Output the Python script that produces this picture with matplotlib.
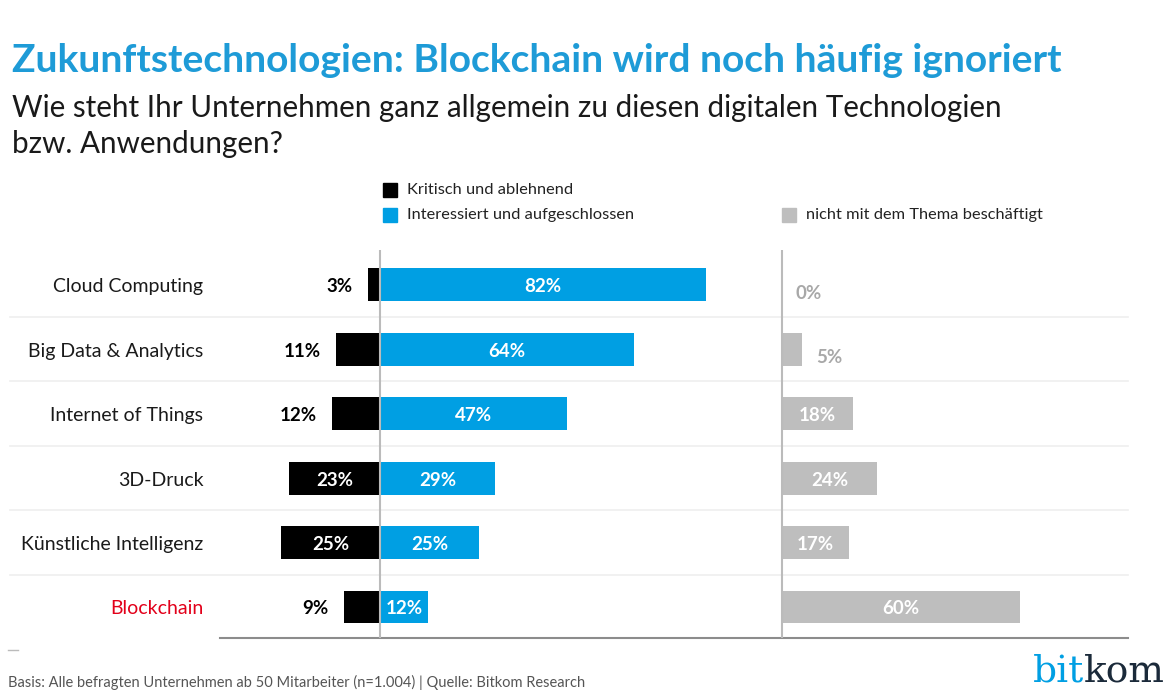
import matplotlib.pyplot as plt
from matplotlib.lines import Line2D
from matplotlib.patches import Rectangle

# Daten
categories = ["Cloud Computing", "Big Data & Analytics", "Internet of Things",
              "3D-Druck", "Künstliche Intelligenz", "Blockchain"]
kritisch = [3, 11, 12, 23, 25, 9]
interessiert = [82, 64, 47, 29, 25, 12]
nicht_beschaeftigt = [0, 5, 18, 24, 17, 60]

legend_labels = ["Kritisch und ablehnend", "Interessiert und aufgeschlossen",
                 "nicht mit dem Thema beschäftigt"]

title = "Zukunftstechnologien: Blockchain wird noch häufig ignoriert"
subtitle = "Wie steht Ihr Unternehmen ganz allgemein zu diesen digitalen Technologien\nbzw. Anwendungen?"
footer = "Basis: Alle befragten Unternehmen ab 50 Mitarbeiter (n=1.004) | Quelle: Bitkom Research"

# Farben
BLUE = "#009FE3"
BLACK = "#000000"
GRAY = "#BEBEBE"
RED = "#E2001A"

plt.rcParams['font.family'] = ['Lato', 'DejaVu Sans']

W, H = 1170, 700
fig = plt.figure(figsize=(W / 100, H / 100), dpi=100)

# Achse in Pixelpositionen
x0, x1 = 220, 1128
ytop, ybot = 250, 638
ax = fig.add_axes([x0 / W, 1 - ybot / H, (x1 - x0) / W, (ybot - ytop) / H])

px_per_pct = 3.97
zero_px = 380
gray_px = 782
xmin = (x0 - zero_px) / px_per_pct
xmax = (x1 - zero_px) / px_per_pct
gray_off = (gray_px - zero_px) / px_per_pct

n = len(categories)
ax.set_xlim(xmin, xmax)
ax.set_ylim(n - 0.52, -0.54)
ax.axis('off')

bh = 0.51
rows = list(range(n))
ax.barh(rows, [-k for k in kritisch], height=bh, color=BLACK)
ax.barh(rows, interessiert, height=bh, color=BLUE)
ax.barh(rows, nicht_beschaeftigt, left=gray_off, height=bh, color=GRAY)

# Trennlinien
for i in range(n - 1):
    ax.plot([-0.231, 1.0], [i + 0.5, i + 0.5], transform=ax.get_yaxis_transform(),
            color="#EFEFEF", lw=1.2, clip_on=False, zorder=0)
ax.plot([0, 1], [n - 0.52, n - 0.52], transform=ax.get_yaxis_transform(),
        color="#8C8C8C", lw=1.5, clip_on=False)
ax.axvline(0, color="#BBBBBB", lw=1.5, zorder=3)
ax.axvline(gray_off, color="#BBBBBB", lw=1.5, zorder=3)

lab_font = dict(fontsize=13.5, fontweight='bold')
for i in rows:
    yy = i + 0.03
    # Kategorie
    ax.annotate(categories[i], (xmin, yy), xytext=(-12, 0), textcoords='offset points',
                ha='right', va='center', fontsize=14,
                color=RED if categories[i] == "Blockchain" else "#1A1A1A")
    # kritisch
    k = kritisch[i]
    if k >= 20:
        ax.text(-k / 2, yy, f"{k}%", ha='center', va='center', color='white', **lab_font)
    else:
        ax.annotate(f"{k}%", (-k, yy), xytext=(-11, 0), textcoords='offset points',
                    ha='right', va='center', color=BLACK, **lab_font)
    # interessiert
    v = interessiert[i]
    ax.text(v / 2, yy, f"{v}%", ha='center', va='center', color='white', **lab_font)
    # nicht beschäftigt
    g = nicht_beschaeftigt[i]
    if g >= 10:
        ax.text(gray_off + g / 2, yy, f"{g}%", ha='center', va='center', color='white', **lab_font)
    else:
        ax.annotate(f"{g}%", (gray_off + g, yy + 0.1), xytext=(10, 0), textcoords='offset points',
                    ha='left', va='center', color="#A8A8A8", **lab_font)

# Legende
leg_items = [(383, 190, BLACK, legend_labels[0]),
             (383, 215, BLUE, legend_labels[1]),
             (782, 215, GRAY, legend_labels[2])]
for lx, ly, c, t in leg_items:
    fig.add_artist(Rectangle((lx / W, 1 - (ly + 7) / H), 14 / W, 14 / H,
                             transform=fig.transFigure, color=c))
    fig.text((lx + 24) / W, 1 - ly / H, t, ha='left', va='center', fontsize=11.8,
             color="#222222")

# Titel
fig.text(12 / W, 1 - 60 / H, title, ha='left', va='center', fontsize=28.1,
         fontweight='bold', color="#1E9BD7")
fig.text(12 / W, 1 - 126 / H, subtitle, ha='left', va='center', fontsize=21.3,
         color="#1A1A1A", linespacing=1.35)

# Fußzeile
fig.add_artist(Line2D([8 / W, 18 / W], [1 - 650 / H, 1 - 650 / H], color="#BBBBBB", lw=1))
fig.text(8 / W, 1 - 682 / H, footer, ha='left', va='center', fontsize=10.5, color="#555555")

# Logo
kom = fig.text(1165 / W, 1 - 672 / H, "kom", ha='right', va='center', fontsize=27,
               color="#1B2A3A", family='DejaVu Serif')
fig.canvas.draw()
bb = kom.get_window_extent(fig.canvas.get_renderer())
fig.text(bb.x0 / fig.bbox.width, 1 - 672 / H, "bit", ha='right', va='center', fontsize=27,
         color=BLUE, family='DejaVu Serif')

fig.savefig("out.png", dpi=100)
